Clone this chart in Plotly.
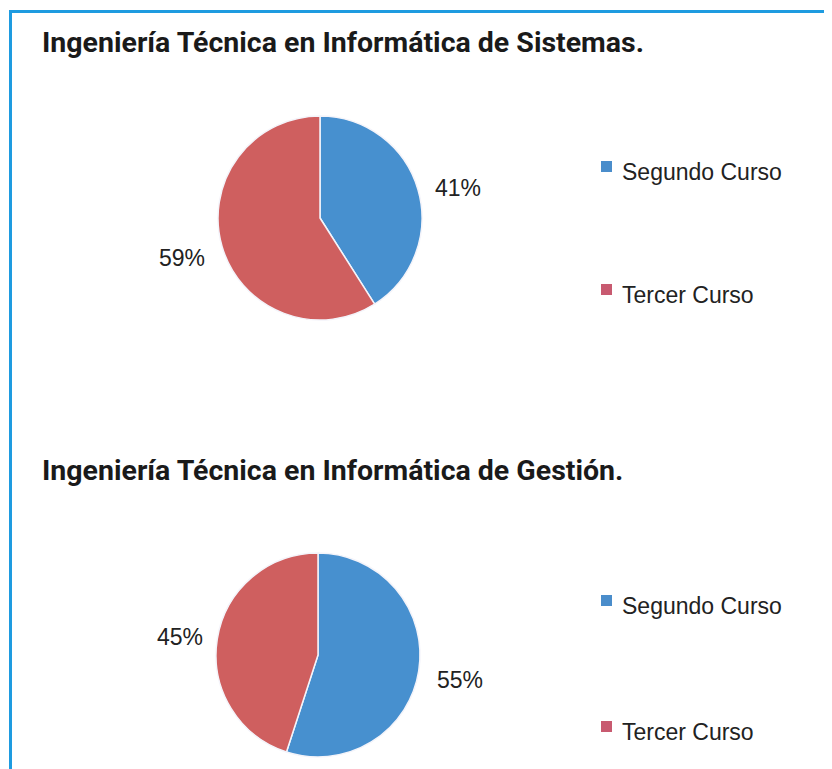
import plotly.graph_objects as go

# The page body adds an 8px margin, so the figure is sized to the remaining window.
OFF = 8
W, H = 832 - OFF, 769 - OFF

categories = ["Segundo Curso", "Tercer Curso"]
titles = ["Ingeniería Técnica en Informática de Sistemas.",
          "Ingeniería Técnica en Informática de Gestión."]
sistemas_values = [41, 59]
gestion_values = [55, 45]

colors = ["#4790CF", "#CF5F5F"]
legend_colors = ["#4A8DCB", "#C85A70"]
TEXT_FONT = "Liberation Sans Narrow, Arial Narrow, Liberation Sans, Arial"


def px_x(x):
    """window pixel x -> paper x"""
    return (x - OFF) / W


def px_y(y):
    """window pixel y -> paper y"""
    return 1 - (y - OFF) / H


fig = go.Figure()

pies = [
    dict(values=sistemas_values, cx=320, cy=218, r=102),
    dict(values=gestion_values, cx=318, cy=655, r=102),
]
for p in pies:
    fig.add_trace(go.Pie(
        labels=categories, values=p["values"], sort=False,
        direction="clockwise", rotation=0,
        marker=dict(colors=colors, line=dict(color="#F4F4FA", width=1.5)),
        textinfo="none", hoverinfo="label+percent", showlegend=False,
        domain=dict(x=[px_x(p["cx"] - p["r"]), px_x(p["cx"] + p["r"])],
                    y=[px_y(p["cy"] + p["r"]), px_y(p["cy"] - p["r"])]),
    ))

annotations = []
# titles
for t, y in zip(titles, [42, 470]):
    annotations.append(dict(text=t, x=px_x(40), y=px_y(y), xref="paper", yref="paper",
                            xanchor="left", yanchor="middle", showarrow=False,
                            font=dict(family="Roboto", size=28.5, color="#1a1a1a", weight="bold")))
# percentage labels
label_pos = [
    [(458, 188), (182, 258)],
    [(460, 680), (180, 637)],
]
for vals, poss in zip([sistemas_values, gestion_values], label_pos):
    for v, (x, y) in zip(vals, poss):
        annotations.append(dict(text=f"{v}%", x=px_x(x), y=px_y(y), xref="paper", yref="paper",
                                xanchor="center", yanchor="middle", showarrow=False,
                                font=dict(family=TEXT_FONT, size=23, color="#222222")))
# legends
legend_rows = [[172, 295], [606, 732]]
for rows in legend_rows:
    for cat, y in zip(categories, rows):
        annotations.append(dict(text=cat, x=px_x(620), y=px_y(y), xref="paper", yref="paper",
                                xanchor="left", yanchor="middle", showarrow=False,
                                font=dict(family=TEXT_FONT, size=23, color="#222222")))

shapes = []
for rows in legend_rows:
    for col, y in zip(legend_colors, rows):
        shapes.append(dict(type="rect", xref="paper", yref="paper",
                           x0=px_x(601), x1=px_x(612), y0=px_y(y), y1=px_y(y - 11),
                           fillcolor=col, line=dict(width=0)))
# border (only the left and top edges are visible)
shapes.append(dict(type="line", xref="paper", yref="paper", x0=px_x(10.5), x1=px_x(10.5),
                   y0=px_y(10), y1=0, line=dict(color="#1E9BE0", width=3)))
shapes.append(dict(type="line", xref="paper", yref="paper", x0=px_x(9), x1=1,
                   y0=px_y(11.5), y1=px_y(11.5), line=dict(color="#1E9BE0", width=3)))

fig.update_layout(width=W, height=H, margin=dict(l=0, r=0, t=0, b=0),
                  paper_bgcolor="white", plot_bgcolor="white",
                  annotations=annotations, shapes=shapes)

fig.write_html("out.html")
